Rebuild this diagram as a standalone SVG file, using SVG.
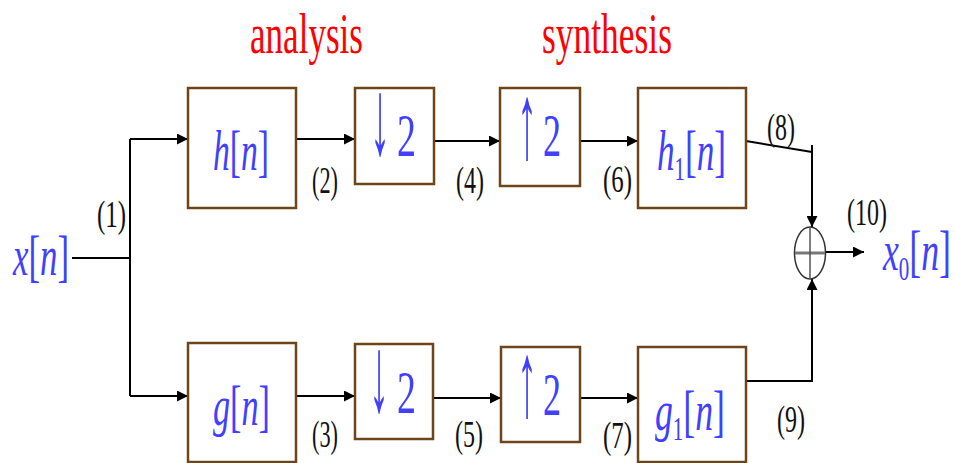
<svg xmlns="http://www.w3.org/2000/svg" width="955" height="463" viewBox="0 0 955 463">
<defs>
<marker id="ah" viewBox="0 0 10 10" refX="10" refY="5" markerWidth="11" markerHeight="11" markerUnits="userSpaceOnUse" orient="auto">
<path d="M0,0 L10,5 L0,10 Z" fill="#000"/>
</marker>
</defs>
<style>
.box{fill:#fff;stroke:#6e4419;stroke-width:2.5}
.sig{font-family:"Liberation Serif","Times New Roman",serif;fill:#4040ff;font-size:58px}
.it{font-style:italic}
.op{font-family:"Liberation Serif","DejaVu Serif",serif;fill:#4040ff;font-size:62px}
.ar{font-family:"Liberation Serif","DejaVu Serif",serif;fill:#4040ff;font-size:108px}
.lab{font-family:"Liberation Serif","Times New Roman",serif;fill:#111;font-size:38px}
.ttl{font-family:"Liberation Serif","Times New Roman",serif;fill:#ff0000;font-size:56px}
.wire{fill:none;stroke:#000;stroke-width:2}
.arr{fill:none;stroke:#000;stroke-width:2;marker-end:url(#ah)}
</style>
<rect width="955" height="463" fill="#fff"/>
<text class="ttl" x="250" y="53" textLength="113" lengthAdjust="spacingAndGlyphs">analysis</text>
<text class="ttl" x="542" y="53" textLength="130" lengthAdjust="spacingAndGlyphs">synthesis</text>
<g id="connectors">
<path class="wire" d="M72,258 H130"/>
<path class="wire" d="M130,139 V396"/>
<path class="arr" d="M130,139 H188"/>
<path class="arr" d="M130,396 H188"/>
<path class="arr" d="M296,139 H355"/>
<path class="arr" d="M434,141 H500"/>
<path class="arr" d="M580,141 H638"/>
<path class="wire" d="M746,141 L812,152"/>
<path class="arr" d="M812,145 V227"/>
<path class="arr" d="M296,396 H355"/>
<path class="arr" d="M433,398 H501"/>
<path class="arr" d="M580,398 H638"/>
<path class="wire" d="M746,381 H812"/>
<path class="arr" d="M812,382 V279"/>
<path class="arr" d="M825,252 H864"/>
</g>
<g id="input">
<text class="sig" x="13" y="275" textLength="56" lengthAdjust="spacingAndGlyphs"><tspan class="it">x</tspan>[<tspan class="it">n</tspan>]</text>
</g>
<g id="h">
<rect class="box" x="188" y="88" width="108" height="120"/>
<text class="sig" x="213" y="170" textLength="56" lengthAdjust="spacingAndGlyphs"><tspan class="it">h</tspan>[<tspan class="it">n</tspan>]</text>
</g>
<g id="down-top">
<rect class="box" x="355" y="88" width="79" height="96"/>
<text class="ar" x="370" y="154" textLength="20" lengthAdjust="spacingAndGlyphs">↓</text>
<text class="op" x="397" y="156" textLength="19" lengthAdjust="spacingAndGlyphs">2</text>
</g>
<g id="up-top">
<rect class="box" x="500" y="88" width="80" height="98"/>
<text class="ar" x="517" y="158" textLength="20" lengthAdjust="spacingAndGlyphs">↑</text>
<text class="op" x="543" y="156" textLength="18" lengthAdjust="spacingAndGlyphs">2</text>
</g>
<g id="h1">
<rect class="box" x="638" y="88" width="108" height="120"/>
<text class="sig" x="657" y="170" textLength="69" lengthAdjust="spacingAndGlyphs"><tspan class="it">h</tspan><tspan font-size="34" dy="10">1</tspan><tspan dy="-10">[</tspan><tspan class="it">n</tspan>]</text>
</g>
<g id="g">
<rect class="box" x="188" y="343" width="108" height="119"/>
<text class="sig" x="213" y="425" textLength="57" lengthAdjust="spacingAndGlyphs"><tspan class="it">g</tspan>[<tspan class="it">n</tspan>]</text>
</g>
<g id="down-bot">
<rect class="box" x="355" y="344" width="78" height="95"/>
<text class="ar" x="369" y="411" textLength="20" lengthAdjust="spacingAndGlyphs">↓</text>
<text class="op" x="397" y="413" textLength="19" lengthAdjust="spacingAndGlyphs">2</text>
</g>
<g id="up-bot">
<rect class="box" x="501" y="347" width="79" height="95"/>
<text class="ar" x="517" y="416" textLength="20" lengthAdjust="spacingAndGlyphs">↑</text>
<text class="op" x="543" y="415" textLength="18" lengthAdjust="spacingAndGlyphs">2</text>
</g>
<g id="g1">
<rect class="box" x="638" y="347" width="108" height="115"/>
<text class="sig" x="655" y="430" textLength="70" lengthAdjust="spacingAndGlyphs"><tspan class="it">g</tspan><tspan font-size="34" dy="10">1</tspan><tspan dy="-10">[</tspan><tspan class="it">n</tspan>]</text>
</g>
<g id="sum">
<ellipse cx="810" cy="253" rx="15.5" ry="26" fill="#fff" stroke="#333" stroke-width="1.5"/>
<path d="M795,253 H825" stroke="#777" stroke-width="3"/>
<path d="M810,227 V279" stroke="#555" stroke-width="1.5"/>
</g>
<g id="output">
<text class="sig" x="883" y="270" textLength="68" lengthAdjust="spacingAndGlyphs"><tspan class="it">x</tspan><tspan font-size="34" dy="10">0</tspan><tspan dy="-10">[</tspan><tspan class="it">n</tspan>]</text>
</g>
<g id="labels">
<text class="lab" x="97" y="227" textLength="29" lengthAdjust="spacingAndGlyphs">(1)</text>
<text class="lab" x="312" y="193" textLength="26" lengthAdjust="spacingAndGlyphs">(2)</text>
<text class="lab" x="456" y="193" textLength="28" lengthAdjust="spacingAndGlyphs">(4)</text>
<text class="lab" x="603" y="192" textLength="29" lengthAdjust="spacingAndGlyphs">(6)</text>
<text class="lab" x="767" y="140" textLength="28" lengthAdjust="spacingAndGlyphs">(8)</text>
<text class="lab" x="847" y="225" textLength="40" lengthAdjust="spacingAndGlyphs">(10)</text>
<text class="lab" x="312" y="447" textLength="26" lengthAdjust="spacingAndGlyphs">(3)</text>
<text class="lab" x="455" y="447" textLength="28" lengthAdjust="spacingAndGlyphs">(5)</text>
<text class="lab" x="603" y="448" textLength="29" lengthAdjust="spacingAndGlyphs">(7)</text>
<text class="lab" x="777" y="432" textLength="28" lengthAdjust="spacingAndGlyphs">(9)</text>
</g>
</svg>
